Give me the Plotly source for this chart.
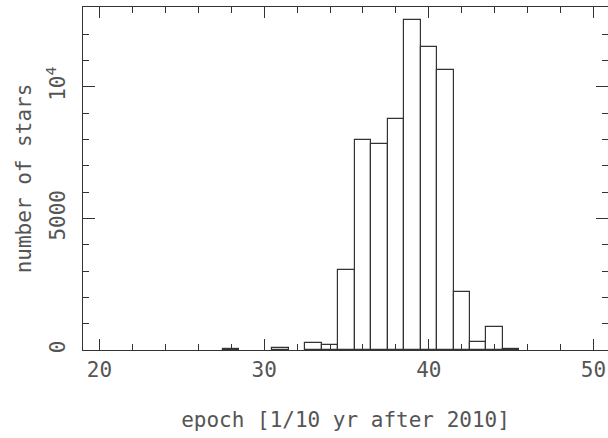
import plotly.graph_objects as go

# epoch bins (1/10 yr after 2010), bin centres, width 1
epoch = [28, 31, 33, 34, 35, 36, 37, 38, 39, 40, 41, 42, 43, 44, 45]
counts = [50, 60, 253, 180, 3040, 7990, 7830, 8780, 12560, 11510, 10650, 2190, 292, 862, 25]

x_ticks = [20, 30, 40, 50]
y_ticks = [0, 5000, 10000]
y_ticktext = ["0", "5000", "10<sup>4</sup>"]

FONT = "DejaVu Sans Mono"
TXT = "#555555"
LINE = "#333333"

fig = go.Figure()
fig.add_trace(go.Bar(
    x=epoch, y=counts, width=1,
    marker=dict(color="white", line=dict(color=LINE, width=1.2)),
))

fig.update_layout(
    width=608, height=438,
    margin=dict(l=83, r=0, t=7, b=88, autoexpand=False),
    paper_bgcolor="white", plot_bgcolor="white",
    showlegend=False, bargap=0,
    font=dict(family=FONT, size=21, color=TXT),
)
fig.update_xaxes(
    range=[19, 50.88], showgrid=False, zeroline=False, automargin=False,
    showline=True, linecolor=LINE, linewidth=1.2, mirror="allticks",
    tickmode="array", tickvals=x_ticks,
    ticks="inside", ticklen=11, tickcolor=LINE, tickwidth=1.2,
    minor=dict(tickmode="linear", tick0=0, dtick=2, ticks="inside", ticklen=6,
               tickcolor=LINE, tickwidth=1.2),
    tickfont=dict(family=FONT, size=21, color=TXT),
    ticklabelstandoff=1,
    title=dict(text="epoch [1/10 yr after 2010]", standoff=31,
               font=dict(family=FONT, size=21, color=TXT)),
)
fig.update_yaxes(
    range=[0, 13035], showgrid=False, zeroline=False, automargin=False,
    showline=True, linecolor=LINE, linewidth=1.2, mirror="allticks",
    tickmode="array", tickvals=y_ticks, ticktext=y_ticktext,
    ticks="inside", ticklen=12, tickcolor=LINE, tickwidth=1.2,
    minor=dict(tickmode="linear", tick0=0, dtick=1000, ticks="inside", ticklen=6,
               tickcolor=LINE, tickwidth=1.2),
    tickangle=-90,
    tickfont=dict(family=FONT, size=21, color=TXT),
    ticklabelstandoff=9,
    title=dict(text="number of stars", standoff=4,
               font=dict(family=FONT, size=21, color=TXT)),
)

fig.write_html("out.html", config={"displayModeBar": False},
               post_script="document.body.style.margin='0';")
